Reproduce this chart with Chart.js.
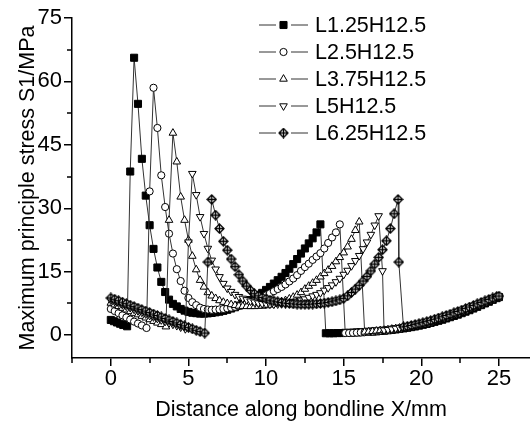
<!DOCTYPE html>
<html>
<head>
<meta charset="utf-8">
<title>Maximum principle stress along bondline</title>
<script src="https://cdn.jsdelivr.net/npm/chart.js@4.4.1/dist/chart.umd.min.js"></script>
<style>
  html, body { margin: 0; padding: 0; background: #fff; }
  #wrap { width: 530px; height: 423px; }
</style>
</head>
<body>
<div id="wrap"><canvas id="stressChart" width="530" height="423"></canvas></div>
<script>
// Maximum principle stress S1 along the bondline, five overlap layouts
// values

const seriesNames = ['L1.25H12.5', 'L2.5H12.5', 'L3.75H12.5', 'L5H12.5', 'L6.25H12.5'];

const xTicks = [0, 5, 10, 15, 20, 25];
const xMinorTicks = [-2.5, 2.5, 7.5, 12.5, 17.5, 22.5];
const yTicks = [0, 15, 30, 45, 60, 75];
const yMinorTicks = [7.5, 22.5, 37.5, 52.5, 67.5];

// L1.25H12.5 (filled square)
const l125X = [0, 0.2, 0.4, 0.6, 0.8, 1.05,
  1.25, 1.5, 1.75, 2, 2.25, 2.5, 2.75, 3, 3.25, 3.5, 3.75, 4, 4.25, 4.5, 4.75, 5, 5.25, 5.5, 5.75, 6,
  6.25, 6.5, 6.75, 7, 7.25, 7.5, 7.75, 8, 8.25, 8.5, 8.75, 9, 9.25, 9.5, 9.75, 10, 10.25, 10.5, 10.75, 11,
  11.25, 11.5, 11.75, 12, 12.25, 12.5, 12.75, 13, 13.25, 13.5,
  13.85, 14.1, 14.35, 14.6, 14.85, 15.1, 15.35, 15.6, 15.85, 16.1, 16.35, 16.6, 16.85, 17.1, 17.35,
  17.6, 17.85, 18.1, 18.35, 18.6, 18.85, 19.1, 19.35, 19.6, 19.85, 20.1, 20.35, 20.6, 20.85, 21.1,
  21.35, 21.6, 21.85, 22.1, 22.35, 22.6, 22.85, 23.1, 23.35, 23.6, 23.85, 24.1, 24.35, 24.6, 24.85, 25];
const l125Y = [3.6, 3.3, 3.0, 2.7, 2.4, 2.1,
  38.7, 65.6, 54.7, 41.7, 33.0, 26.0, 20.4, 16.0, 12.6, 10.2, 8.4, 7.4, 6.8, 6.2, 5.8, 5.5, 5.3, 5.2, 5.1, 5.1,
  5.15, 5.25, 5.4, 5.55, 5.75, 6.0, 6.3, 6.6, 7.0, 7.4, 7.85, 8.3, 8.85, 9.4, 10.0, 10.7, 11.4, 12.2, 13.0, 13.8,
  14.7, 15.7, 16.8, 18.0, 19.3, 20.5, 21.7, 22.9, 24.3, 26.2,
  0.45, 0.45, 0.45, 0.5, 0.5, 0.55, 0.55, 0.6, 0.65, 0.7, 0.75, 0.8, 0.85, 0.9, 1.0,
  1.05, 1.15, 1.25, 1.35, 1.5, 1.6, 1.75, 1.9, 2.05, 2.25, 2.45, 2.65, 2.9, 3.15, 3.4,
  3.65, 3.95, 4.25, 4.55, 4.85, 5.2, 5.55, 5.9, 6.3, 6.7, 7.1, 7.5, 7.9, 8.35, 8.75, 9.0];

// L2.5H12.5 (open circle)
const l25X = [0, 0.25, 0.5, 0.75, 1, 1.25, 1.5, 1.75, 2, 2.3,
  2.5, 2.75, 3, 3.25, 3.5, 3.75, 4, 4.25, 4.5, 4.75, 5, 5.25, 5.5, 5.75, 6, 6.25, 6.5, 6.75, 7, 7.25,
  7.5, 7.75, 8, 8.25, 8.5, 8.75, 9, 9.25, 9.5, 9.75, 10, 10.25, 10.5, 10.75, 11, 11.25, 11.5, 11.75, 12, 12.25,
  12.5, 12.75, 13, 13.25, 13.5, 13.75, 14, 14.25, 14.5, 14.75,
  15.1, 15.35, 15.6, 15.85, 16.1, 16.35, 16.6, 16.85, 17.1, 17.35, 17.6, 17.85, 18.1, 18.35, 18.6,
  18.85, 19.1, 19.35, 19.6, 19.85, 20.1, 20.35, 20.6, 20.85, 21.1, 21.35, 21.6, 21.85, 22.1, 22.35,
  22.6, 22.85, 23.1, 23.35, 23.6, 23.85, 24.1, 24.35, 24.6, 24.85, 25];
const l25Y = [6.2, 5.7, 5.2, 4.7, 4.2, 3.7, 3.2, 2.75, 2.3, 1.7,
  34.0, 58.5, 49.0, 37.8, 30.3, 24.0, 19.3, 15.6, 12.8, 10.5, 8.8, 7.8, 7.1, 6.5, 6.2, 6.05, 6.0, 6.05, 6.1, 6.2,
  6.35, 6.5, 6.7, 6.9, 7.1, 7.4, 7.8, 8.1, 8.5, 8.9, 9.4, 9.9, 10.4, 10.9, 11.4, 12.0, 12.7, 13.4, 14.2, 15.2,
  16.1, 16.9, 17.8, 18.6, 19.4, 20.5, 21.8, 23.1, 24.3, 26.2,
  0.5, 0.5, 0.55, 0.6, 0.65, 0.7, 0.8, 0.85, 0.95, 1.05, 1.15, 1.25, 1.4, 1.5, 1.65,
  1.8, 1.95, 2.1, 2.3, 2.5, 2.7, 2.95, 3.2, 3.45, 3.7, 4.0, 4.3, 4.6, 4.9, 5.25,
  5.6, 5.95, 6.3, 6.7, 7.05, 7.45, 7.85, 8.25, 8.6, 8.95, 9.1];

// L3.75H12.5 (open triangle)
const l375X = [0, 0.25, 0.5, 0.75, 1, 1.25, 1.5, 1.75, 2, 2.25, 2.5, 2.75, 3, 3.25, 3.55,
  3.75, 4, 4.25, 4.5, 4.75, 5, 5.25, 5.5, 5.75, 6, 6.25, 6.5, 6.75, 7, 7.25, 7.5, 7.75, 8, 8.25, 8.5,
  8.75, 9, 9.25, 9.5, 9.75, 10, 10.25, 10.5, 10.75, 11, 11.25, 11.5, 11.75, 12, 12.25, 12.5, 12.75, 13, 13.25, 13.5,
  13.75, 14, 14.25, 14.5, 14.75, 15, 15.25, 15.5, 15.75, 16,
  16.35, 16.6, 16.85, 17.1, 17.35, 17.6, 17.85, 18.1, 18.35, 18.6, 18.85, 19.1, 19.35, 19.6, 19.85,
  20.1, 20.35, 20.6, 20.85, 21.1, 21.35, 21.6, 21.85, 22.1, 22.35, 22.6, 22.85, 23.1, 23.35, 23.6,
  23.85, 24.1, 24.35, 24.6, 24.85, 25];
const l375Y = [7.6, 7.2, 6.8, 6.4, 6.0, 5.6, 5.2, 4.85, 4.5, 4.1, 3.7, 3.3, 2.9, 2.55, 2.0,
  27.2, 47.8, 41.0, 32.7, 27.2, 22.5, 18.7, 15.5, 13.0, 11.4, 10.1, 9.3, 8.7, 8.2, 7.8, 7.5, 7.25, 7.05, 6.9, 6.85,
  6.8, 6.8, 6.8, 6.85, 6.9, 7.0, 7.15, 7.35, 7.6, 7.9, 8.2, 8.6, 9.0, 9.5, 10.1, 10.9, 11.6, 12.3, 13.0, 13.8,
  14.6, 15.4, 16.3, 17.4, 18.4, 19.5, 20.9, 22.7, 24.8, 26.8,
  0.75, 0.8, 0.9, 1.0, 1.1, 1.2, 1.3, 1.45, 1.55, 1.7, 1.85, 2.0, 2.2, 2.4, 2.6,
  2.8, 3.05, 3.3, 3.55, 3.85, 4.15, 4.45, 4.75, 5.05, 5.4, 5.75, 6.1, 6.45, 6.85, 7.2,
  7.6, 7.95, 8.35, 8.7, 9.0, 9.15];

// L5H12.5 (open inverted triangle)
const l5X = [0, 0.25, 0.5, 0.75, 1, 1.25, 1.5, 1.75, 2, 2.25, 2.5, 2.75, 3, 3.25, 3.5, 3.75, 4, 4.25, 4.5, 4.8,
  5, 5.25, 5.5, 5.75, 6, 6.25, 6.5, 6.75, 7, 7.25, 7.5, 7.75, 8, 8.25, 8.5, 8.75, 9, 9.25, 9.5, 9.75,
  10, 10.25, 10.5, 10.75, 11, 11.25, 11.5, 11.75, 12, 12.25, 12.5, 12.75, 13, 13.25, 13.5, 13.75, 14, 14.25, 14.5, 14.75,
  15, 15.25, 15.5, 15.75, 16, 16.25, 16.5, 16.75, 17, 17.25, 17.5,
  17.6, 17.85, 18.1, 18.35, 18.6, 18.85, 19.1, 19.35, 19.6, 19.85, 20.1, 20.35, 20.6, 20.85, 21.1,
  21.35, 21.6, 21.85, 22.1, 22.35, 22.6, 22.85, 23.1, 23.35, 23.6, 23.85, 24.1, 24.35, 24.6, 24.85, 25];
const l5Y = [8.3, 7.95, 7.6, 7.2, 6.85, 6.5, 6.1, 5.75, 5.4, 5.0, 4.65, 4.3, 3.95, 3.6, 3.25, 2.9, 2.55, 2.25, 1.9, 1.5,
  22.0, 38.2, 33.2, 28.0, 24.0, 20.5, 17.7, 15.6, 13.8, 12.2, 11.1, 10.3, 9.6, 9.1, 8.7, 8.35, 8.05, 7.8, 7.6, 7.45,
  7.35, 7.3, 7.3, 7.35, 7.4, 7.5, 7.65, 7.8, 8.0, 8.25, 8.55, 8.9, 9.25, 9.6, 10.0, 10.6, 11.2, 11.85, 12.6, 13.4,
  14.35, 15.3, 16.4, 17.6, 18.8, 20.4, 22.0, 23.8, 26.0, 28.2, 15.2,
  1.2, 1.3, 1.45, 1.6, 1.75, 1.9, 2.05, 2.25, 2.45, 2.65, 2.9, 3.15, 3.4, 3.65, 3.95,
  4.25, 4.55, 4.85, 5.2, 5.5, 5.85, 6.2, 6.55, 6.9, 7.3, 7.65, 8.0, 8.4, 8.75, 9.05, 9.2];

// L6.25H12.5 (crossed diamond)
const l625X = [0, 0.25, 0.5, 0.75, 1, 1.25, 1.5, 1.75, 2, 2.25, 2.5, 2.75, 3, 3.25, 3.5, 3.75, 4, 4.25, 4.5, 4.75,
  5, 5.25, 5.5, 5.75, 6.05,
  6.25, 6.5, 6.75, 7, 7.25, 7.5, 7.75, 8, 8.25, 8.5, 8.75, 9, 9.25, 9.5, 9.75, 10, 10.25, 10.5, 10.75, 11,
  11.25, 11.5, 11.75, 12, 12.25, 12.5, 12.75, 13, 13.25, 13.5, 13.75, 14, 14.25, 14.5, 14.75, 15, 15.25, 15.5, 15.75,
  16, 16.25, 16.5, 16.75, 17, 17.25, 17.5, 17.75, 18, 18.25, 18.5, 18.55,
  18.85, 19.1, 19.35, 19.6, 19.85, 20.1, 20.35, 20.6, 20.85, 21.1, 21.35, 21.6, 21.85, 22.1, 22.35,
  22.6, 22.85, 23.1, 23.35, 23.6, 23.85, 24.1, 24.35, 24.6, 24.85, 25];
const l625Y = [8.8, 8.5, 8.15, 7.8, 7.45, 7.1, 6.75, 6.4, 6.05, 5.7, 5.35, 5.0, 4.65, 4.3, 3.95, 3.6, 3.25, 2.9, 2.55, 2.2,
  1.85, 1.5, 1.15, 0.85, 0.5,
  17.3, 32.1, 28.4, 25.2, 22.2, 20.1, 18.0, 16.2, 14.3, 12.8, 11.6, 10.6, 9.8, 9.3, 8.9, 8.6, 8.3, 8.1, 7.9, 7.75,
  7.6, 7.5, 7.4, 7.35, 7.3, 7.3, 7.3, 7.35, 7.4, 7.5, 7.6, 7.75, 7.9, 8.1, 8.35, 8.7, 9.3, 10.1, 10.9,
  11.8, 12.8, 13.9, 15.2, 16.8, 18.4, 20.2, 22.3, 25.2, 28.7, 32.1, 17.3,
  1.95, 2.1, 2.3, 2.5, 2.7, 2.95, 3.2, 3.45, 3.75, 4.05, 4.35, 4.65, 4.95, 5.3, 5.6,
  5.95, 6.3, 6.65, 7.0, 7.4, 7.75, 8.1, 8.45, 8.8, 9.1, 9.25];

const seriesX = [l125X, l25X, l375X, l5X, l625X];
const seriesY = [l125Y, l25Y, l375Y, l5Y, l625Y];

const FONT = "'Liberation Sans', Arial, Helvetica, sans-serif";

// diamond with a cross inside, used as the 5th marker
function crossedDiamond() {
    const c = document.createElement('canvas');
    c.width = 11;
    c.height = 11;
    const g = c.getContext('2d');
    g.lineWidth = 1.3;
    g.strokeStyle = '#000';
    g.fillStyle = '#fff';
    g.beginPath();
    g.moveTo(5.5, 1);
    g.lineTo(10, 5.5);
    g.lineTo(5.5, 10);
    g.lineTo(1, 5.5);
    g.closePath();
    g.fill();
    g.stroke();
    g.beginPath();
    g.moveTo(5.5, 1);
    g.lineTo(5.5, 10);
    g.moveTo(1, 5.5);
    g.lineTo(10, 5.5);
    g.stroke();
    return c;
}

const markers = [
    { pointStyle: 'rect', pointRadius: 5, pointRotation: 0, pointBackgroundColor: '#000' },
    { pointStyle: 'circle', pointRadius: 3.6, pointRotation: 0, pointBackgroundColor: '#fff' },
    { pointStyle: 'triangle', pointRadius: 4.4, pointRotation: 0, pointBackgroundColor: '#fff' },
    { pointStyle: 'triangle', pointRadius: 4.4, pointRotation: 180, pointBackgroundColor: '#fff' },
    { pointStyle: crossedDiamond(), pointRadius: 5.5, pointRotation: 0, pointBackgroundColor: '#fff' }
];

const datasets = seriesNames.map((name, i) => Object.assign({
    label: name,
    data: seriesX[i].map((x, j) => ({ x: x, y: seriesY[i][j] })),
    order: seriesNames.length - 1 - i,
    showLine: true,
    borderColor: '#333',
    borderWidth: 1,
    tension: 0,
    pointBorderColor: '#000',
    pointBorderWidth: 1,
    pointHoverRadius: 0
}, markers[i]));

// minor ticks (outside) on both axes
const minorTicks = {
    id: 'minorTicks',
    afterDraw(chart) {
        const { ctx, chartArea, scales } = chart;
        ctx.save();
        ctx.strokeStyle = '#000';
        ctx.lineWidth = 1.5;
        ctx.beginPath();
        xMinorTicks.forEach(v => {
            const px = Math.round(scales.x.getPixelForValue(v));
            ctx.moveTo(px, chartArea.bottom);
            ctx.lineTo(px, chartArea.bottom + 5);
        });
        yMinorTicks.forEach(v => {
            const py = Math.round(scales.y.getPixelForValue(v));
            ctx.moveTo(chartArea.left, py);
            ctx.lineTo(chartArea.left - 5, py);
        });
        ctx.stroke();
        ctx.restore();
    }
};

// legend inside the plot: line - marker - line, then label
const insideLegend = {
    id: 'insideLegend',
    afterDraw(chart) {
        const ctx = chart.ctx;
        ctx.save();
        chart.data.datasets.forEach((ds, i) => {
            const y = 25 + i * 27;
            ctx.strokeStyle = '#333';
            ctx.lineWidth = 1;
            ctx.beginPath();
            ctx.moveTo(259, y);
            ctx.lineTo(276, y);
            ctx.moveTo(291, y);
            ctx.lineTo(308, y);
            ctx.stroke();

            ctx.fillStyle = ds.pointBackgroundColor;
            ctx.strokeStyle = ds.pointBorderColor;
            ctx.lineWidth = 1;
            Chart.helpers.drawPoint(ctx, {
                pointStyle: ds.pointStyle,
                radius: ds.pointRadius,
                rotation: ds.pointRotation,
                borderWidth: 1
            }, 283.5, y);

            ctx.fillStyle = '#000';
            ctx.font = '21.5px ' + FONT;
            ctx.textAlign = 'left';
            ctx.textBaseline = 'middle';
            ctx.fillText(ds.label, 315, y + 1);
        });
        ctx.restore();
    }
};

new Chart(document.getElementById('stressChart'), {
    type: 'scatter',
    data: { datasets: datasets },
    plugins: [minorTicks, insideLegend],
    options: {
        responsive: false,
        animation: false,
        devicePixelRatio: 1,
        layout: { autoPadding: false, padding: { top: 18, right: 0, bottom: 0, left: 0 } },
        plugins: {
            legend: { display: false },
            tooltip: { enabled: false }
        },
        scales: {
            x: {
                type: 'linear',
                min: -2.5,
                max: 27,
                afterBuildTicks: scale => { scale.ticks = xTicks.map(v => ({ value: v })); },
                afterFit: scale => {
                    scale.height = 65;
                    scale.paddingLeft = 0;
                    scale.paddingRight = 0;
                },
                grid: { display: true, drawOnChartArea: false, tickLength: 8, color: '#000', lineWidth: 1.5 },
                border: { display: true, color: '#000', width: 1.5 },
                ticks: {
                    color: '#000',
                    padding: 0,
                    autoSkip: false,
                    maxRotation: 0,
                    font: { family: FONT, size: 22 }
                },
                title: {
                    display: true,
                    text: 'Distance along bondline X/mm',
                    color: '#000',
                    padding: { top: 0, bottom: 0 },
                    font: { family: FONT, size: 21.5 }
                }
            },
            y: {
                type: 'linear',
                min: -5.4,
                max: 75,
                afterBuildTicks: scale => { scale.ticks = yTicks.map(v => ({ value: v })); },
                afterFit: scale => {
                    scale.width = 72;
                    scale.paddingTop = 0;
                    scale.paddingBottom = 0;
                },
                grid: { display: true, drawOnChartArea: false, tickLength: 8, color: '#000', lineWidth: 1.5 },
                border: { display: true, color: '#000', width: 1.5 },
                ticks: {
                    color: '#000',
                    padding: 2,
                    autoSkip: false,
                    font: { family: FONT, size: 22 }
                },
                title: {
                    display: true,
                    text: 'Maximum principle stress S1/MPa',
                    color: '#000',
                    padding: { top: 15, bottom: 0 },
                    font: { family: FONT, size: 21.5 }
                }
            }
        }
    }
});
</script>
</body>
</html>
